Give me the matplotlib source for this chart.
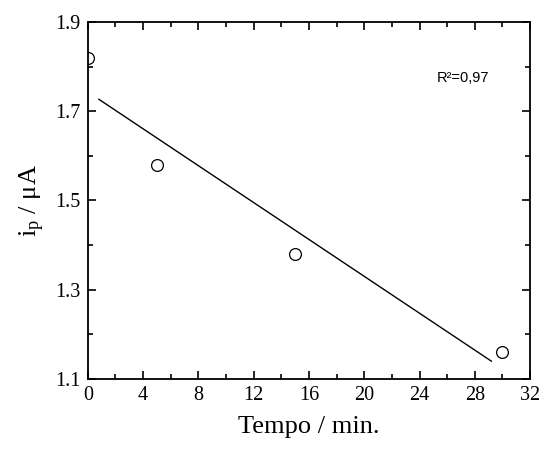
import numpy as np
import matplotlib
matplotlib.use("Agg")
import matplotlib.pyplot as plt
from matplotlib.ticker import MultipleLocator

plt.rcParams['font.family'] = ['Liberation Serif', 'DejaVu Serif']
plt.rcParams['mathtext.fontset'] = 'stix'

tempo = [0, 5, 15, 30]
corrente = [1.82, 1.58, 1.38, 1.16]
fit_range = [0.8, 29.2]
r2_text = "R²=0,97"

fig = plt.figure(figsize=(5.42, 4.49), dpi=100)
ax = fig.add_axes([0.162, 0.156, 0.816, 0.795])

ax.plot(tempo, corrente, linestyle='none', marker='o', markersize=8.5,
        markerfacecolor='white', markeredgecolor='black', markeredgewidth=0.9,
        clip_on=True, zorder=3)

slope, intercept = np.polyfit(tempo, corrente, 1)
xf = np.array(fit_range)
ax.plot(xf, slope * xf + intercept, color='black', linewidth=1.0)

ax.set_xlim(0, 32)
ax.set_ylim(1.1, 1.9)
ax.xaxis.set_major_locator(MultipleLocator(4))
ax.xaxis.set_minor_locator(MultipleLocator(2))
ax.yaxis.set_minor_locator(MultipleLocator(0.1))
ax.set_yticks([1.1, 1.3, 1.5, 1.7, 1.9])
ax.set_yticklabels(['1.1', '1.3', '1.5', '1.7', '1.9'])
ax.tick_params(which='both', direction='in', top=True, right=True, width=1.2)
ax.tick_params(which='major', length=6, labelsize=14.5, pad=5)
ax.tick_params(which='minor', length=3.5)
for s in ax.spines.values():
    s.set_linewidth(1.3)
    s.set_zorder(4)

ax.set_xlabel('Tempo / min.', fontsize=19, labelpad=8)
ax.set_ylabel(r'$\mathregular{i_p}$ / μA', fontsize=19, labelpad=6)

ax.text(0.79, 0.842, r2_text, transform=ax.transAxes, fontsize=10.5,
        family=['Liberation Sans', 'DejaVu Sans'], va='center', ha='left')

fig.savefig('out.png', dpi=100)
